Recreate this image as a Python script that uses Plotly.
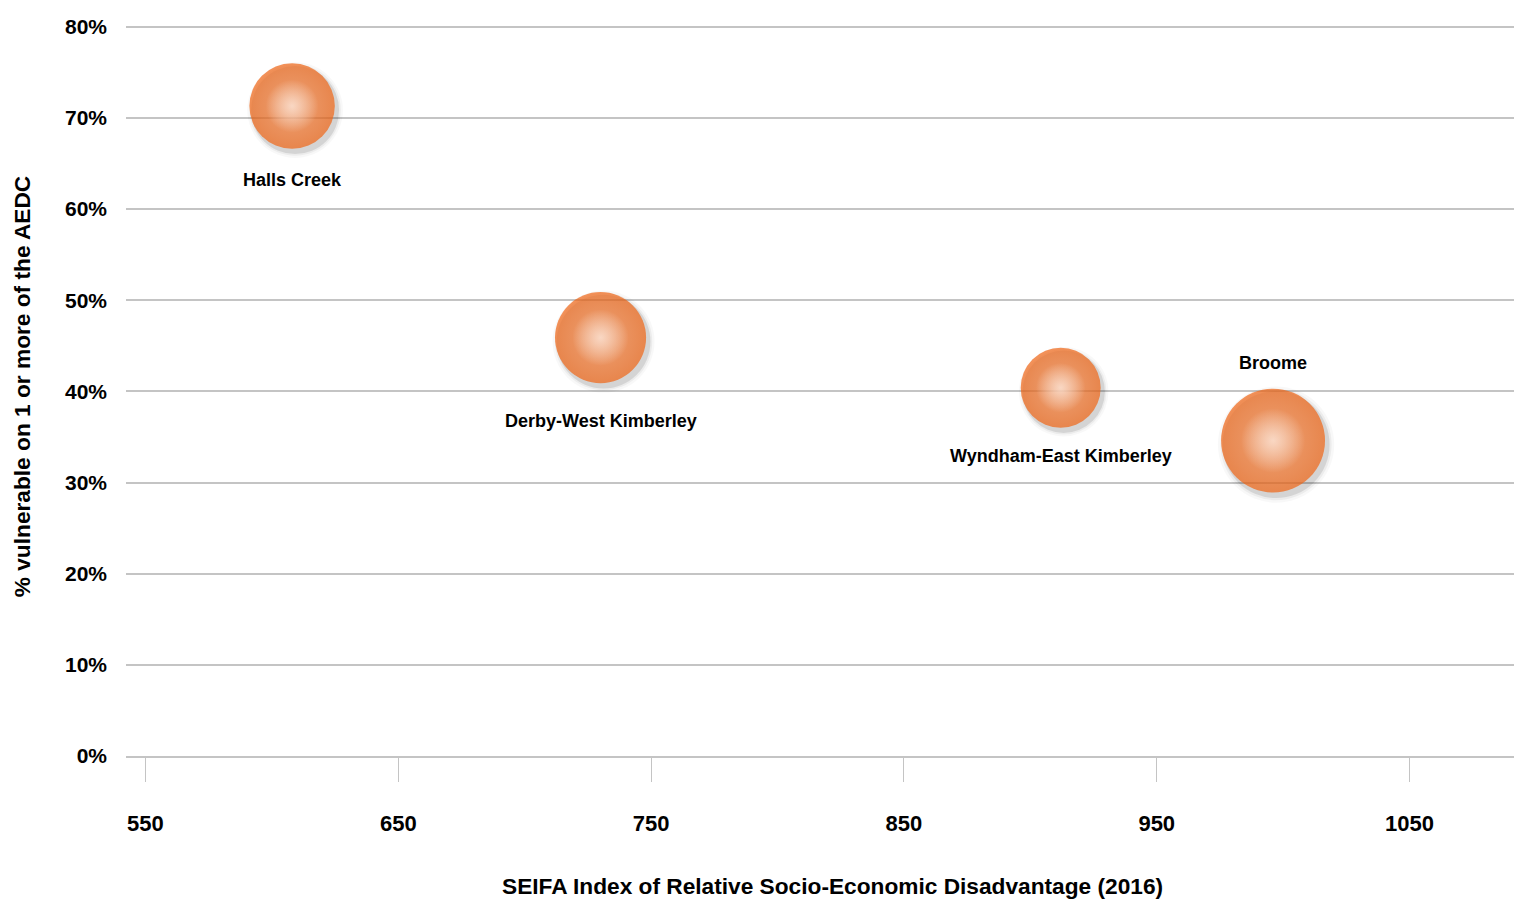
import plotly.graph_objects as go

# Kimberley local government areas
regions = ["Halls Creek", "Derby-West Kimberley", "Wyndham-East Kimberley", "Broome"]
seifa_irsd = [608, 730, 912, 996]              # SEIFA IRSD score (2016)
pct_vulnerable = [0.713, 0.459, 0.404, 0.346]  # share vulnerable on 1+ AEDC domains
bubble_value = [73, 83, 64, 108]               # relative bubble area

x_ticks = [550, 650, 750, 850, 950, 1050]
y_ticks = [0.0, 0.1, 0.2, 0.3, 0.4, 0.5, 0.6, 0.7, 0.8]

FONT = "Liberation Sans, Arial, Helvetica, sans-serif"
ORANGE = "#F06413"
GRID = "#C4C4C4"
CLEAR = "rgba(0,0,0,0)"

W, H = 1517, 899
ML, MR, MT, MB = 126, 0, 17, 139
PW, PH = W - ML - MR, H - MT - MB
SHIFT_X, SHIFT_Y = 3, 4  # drop-shadow offset in pixels

x_dom = [0, (PW - SHIFT_X) / PW]
y_dom = [SHIFT_Y / PH, 1]
x_dom_shadow = [SHIFT_X / PW, 1]
y_dom_shadow = [0, (PH - SHIFT_Y) / PH]

x_range = [542.3, 1091.3]
y_range = [0, 0.8107]

SIZEREF = 0.02

fig = go.Figure()

# anchor trace for the visible axes
fig.add_trace(go.Scatter(
    x=seifa_irsd, y=pct_vulnerable, mode="markers", hoverinfo="skip",
    showlegend=False, marker=dict(opacity=0),
))

# soft drop shadow, drawn on an offset copy of the axes
for scale, alpha in [(1.12, 0.04), (1.07, 0.07), (1.03, 0.14)]:
    fig.add_trace(go.Scatter(
        x=seifa_irsd, y=pct_vulnerable, mode="markers",
        xaxis="x2", yaxis="y2", hoverinfo="skip", showlegend=False,
        marker=dict(size=bubble_value, sizemode="area", sizeref=SIZEREF / scale ** 2,
                    color=f"rgba(0,0,0,{alpha})", line=dict(width=0)),
    ))

# orange bubbles
fig.add_trace(go.Scatter(
    x=seifa_irsd, y=pct_vulnerable, mode="markers",
    xaxis="x3", yaxis="y3", showlegend=False, text=regions,
    hovertemplate="%{text}<br>IRSD %{x}<br>%{y:.1%}<extra></extra>",
    marker=dict(size=bubble_value, sizemode="area", sizeref=SIZEREF,
                color=ORANGE, line=dict(width=0),
                gradient=dict(type="radial", color="#F98C4C")),
))
# glossy highlight
fig.add_trace(go.Scatter(
    x=seifa_irsd, y=pct_vulnerable, mode="markers",
    xaxis="x3", yaxis="y3", hoverinfo="skip", showlegend=False,
    marker=dict(size=bubble_value, sizemode="area", sizeref=SIZEREF / 0.62 ** 2,
                color="rgba(255,255,255,0)", line=dict(width=0),
                gradient=dict(type="radial", color="rgba(255,242,234,0.95)")),
))

label_shift = {
    "Halls Creek": -74,
    "Derby-West Kimberley": -83,
    "Wyndham-East Kimberley": -68,
    "Broome": 78,
}
annotations = [
    dict(x=x, y=y, xref="x", yref="y", text=name, showarrow=False,
         yshift=label_shift[name], xanchor="center", yanchor="middle",
         font=dict(family=FONT, size=18, color="black", weight="bold"))
    for name, x, y in zip(regions, seifa_irsd, pct_vulnerable)
]

# x-axis title, set slightly right of the plot centre
annotations.append(dict(
    text="SEIFA Index of Relative Socio-Economic Disadvantage (2016)",
    xref="paper", yref="paper", x=(832 - ML) / PW, y=(H - MB - 886) / PH,
    xanchor="center", yanchor="middle", showarrow=False,
    font=dict(family=FONT, size=22.7, color="black", weight="bold"),
))

hidden = dict(visible=False, showgrid=False, zeroline=False, fixedrange=True)

fig.update_layout(
    width=W, height=H,
    margin=dict(l=ML, r=MR, t=MT, b=MB, pad=0),
    paper_bgcolor="white", plot_bgcolor=CLEAR,
    font=dict(family=FONT, color="black", weight="bold"),
    showlegend=False,
    annotations=annotations,
    xaxis=dict(
        domain=x_dom, range=x_range, tickvals=x_ticks,
        ticktext=[str(v) for v in x_ticks],
        showgrid=False, zeroline=False,
        showline=True, linecolor=GRID, linewidth=2,
        ticks="outside", ticklen=24, tickwidth=1, tickcolor=GRID,
        ticklabelstandoff=23,
        tickfont=dict(family=FONT, size=22, color="black", weight="bold"),
    ),
    yaxis=dict(
        domain=y_dom, range=y_range, tickvals=y_ticks, tickformat=".0%",
        showgrid=True, gridcolor=GRID, gridwidth=1.5,
        zeroline=False, showline=False, ticks="",
        ticklabelstandoff=18,
        tickfont=dict(family=FONT, size=21, color="black", weight="bold"),
        title=dict(text="% vulnerable on 1 or more of the AEDC",
                   font=dict(family=FONT, size=22.7, color="black", weight="bold"),
                   standoff=28),
    ),
    xaxis2=dict(domain=x_dom_shadow, range=x_range, anchor="y2", **hidden),
    yaxis2=dict(domain=y_dom_shadow, range=y_range, anchor="x2", **hidden),
    xaxis3=dict(domain=x_dom, range=x_range, anchor="y3", **hidden),
    yaxis3=dict(domain=y_dom, range=y_range, anchor="x3", **hidden),
)

fig.write_html("out.html")
